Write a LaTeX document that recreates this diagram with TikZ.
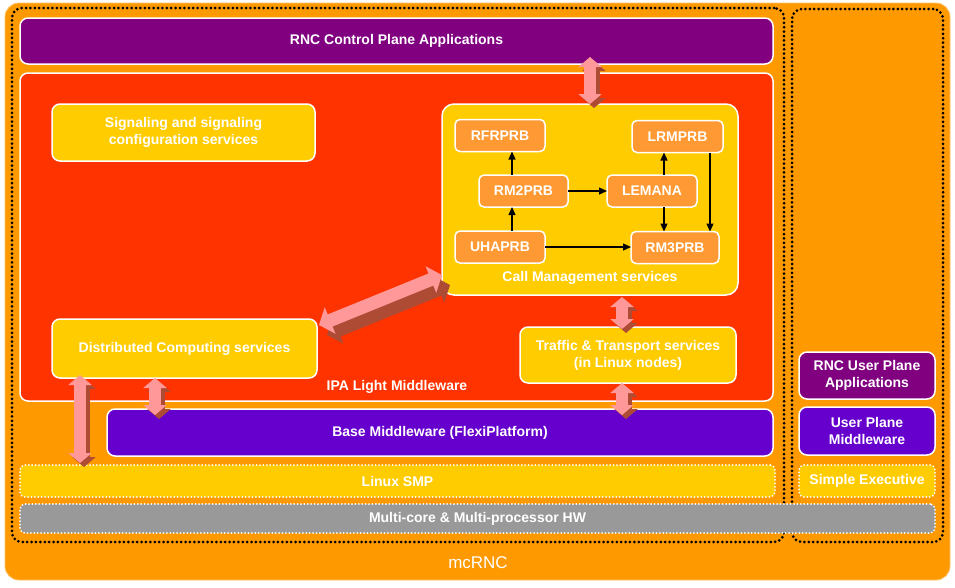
\documentclass[tikz,border=0pt]{standalone}
\usepackage{fontspec}
\setmainfont{Liberation Sans}
\usetikzlibrary{arrows.meta}
\definecolor{outerorange}{HTML}{FF9900}
\definecolor{cppurple}{HTML}{800080}
\definecolor{ipared}{HTML}{FF3300}
\definecolor{svcyellow}{HTML}{FFCC00}
\definecolor{suborange}{HTML}{FF9933}
\definecolor{mwviolet}{HTML}{6600CC}
\definecolor{hwgray}{HTML}{999999}
\definecolor{pinkc}{HTML}{FF9999}
\definecolor{shadowc}{HTML}{AE4B35}
\newcommand\lbl{\fontsize{14}{17}\selectfont\bfseries}
\begin{document}
\begin{tikzpicture}[x=1pt,y=-1pt,
  box/.style={draw=white, line width=1.5pt, rounded corners=8pt, text=white, font=\lbl, align=center, inner sep=0pt, outer sep=0pt},
  dotbox/.style={box, line width=2pt, dash pattern=on 0pt off 3.4pt, line cap=round, rounded corners=5pt},
  blackdots/.style={draw=black, line width=3pt, dash pattern=on 0pt off 4.4pt, line cap=round, rounded corners=10pt},
  sub/.style={box, fill=suborange, rounded corners=5pt, minimum height=32pt},
  smallarrow/.style={-{Triangle[length=8pt,width=7pt]}, line width=1.2pt, draw=black},
  bigarrow/.style={line width=12pt, draw=pinkc, {Triangle[width=23pt,length=10pt]}-{Triangle[width=23pt,length=10pt]}},
  bigshadow/.style={bigarrow, draw=shadowc, transform canvas={xshift=4pt,yshift=-4pt}},
  diagarrow/.style={line width=13pt, draw=pinkc, {Triangle[width=28pt,length=12pt]}-{Triangle[width=28pt,length=12pt]}},
  diagshadow/.style={diagarrow, draw=shadowc, transform canvas={xshift=8pt,yshift=-10pt}},
  lbltext/.style={text=white, font=\lbl, inner sep=0pt}
]
\useasboundingbox (0,0) rectangle (955,587);
% outer
\node[fill=outerorange, draw=outerorange!60!white, line width=0.8pt, rounded corners=14pt, minimum width=945pt, minimum height=577pt, inner sep=0pt] (outer) at (477.5,291.5) {};
\node[lbltext, font=\fontsize{17}{20}\selectfont] (mcrnc) at (478,563) {mcRNC};
% dotted regions
\node[blackdots, minimum width=772pt, minimum height=534pt, inner sep=0pt] (ldot) at (398,275) {};
\node[blackdots, minimum width=151pt, minimum height=533pt, inner sep=0pt] (rdot) at (867.5,275.5) {};
% layers
\node[box, fill=cppurple, minimum width=753pt, minimum height=46pt] (cp) at (396.5,41) {RNC Control Plane Applications};
\node[box, fill=ipared, minimum width=753pt, minimum height=328pt] (ipa) at (396.5,237) {};
\node[lbltext] (ipalbl) at (397,387) {IPA Light Middleware};
\node[box, fill=svcyellow, minimum width=263pt, minimum height=57pt] (sig) at (183.5,132.5) {Signaling and signaling\\configuration services};
\node[box, fill=svcyellow, minimum width=296pt, minimum height=191pt, rounded corners=12pt] (cm) at (590,199.5) {};
\node[lbltext] (cmlbl) at (590,278) {Call Management services};
\node[sub, minimum width=90pt] (rfr) at (500,135.5) {RFRPRB};
\node[sub, minimum width=91pt] (lrm) at (677.5,136.5) {LRMPRB};
\node[sub, minimum width=89pt] (rm2) at (523.5,191) {RM2PRB};
\node[sub, minimum width=90pt] (lem) at (652,191) {LEMANA};
\node[sub, minimum width=90pt] (uha) at (500,247) {UHAPRB};
\node[sub, minimum width=88pt] (rm3) at (675,247.5) {RM3PRB};
\draw[smallarrow] (rm2.north -| 512,0) -- (rfr.south -| 512,0);
\draw[smallarrow] (uha.north -| 512,0) -- (rm2.south -| 512,0);
\draw[smallarrow] (rm2.east) -- (lem.west);
\draw[smallarrow] (lem.north -| 664,0) -- (lrm.south -| 664,0);
\draw[smallarrow] (lem.south -| 664,0) -- (rm3.north -| 664,0);
\draw[smallarrow] (lrm.south -| 710,0) -- (rm3.north -| 710,0);
\draw[smallarrow] (uha.east) -- (uha.east -| rm3.west);
\node[box, fill=svcyellow, minimum width=265pt, minimum height=59pt] (dist) at (184.5,348.5) {Distributed Computing services};
\node[box, fill=svcyellow, minimum width=216pt, minimum height=56pt] (trf) at (628,355) {Traffic \& Transport services\\(in Linux nodes)};
\node[box, fill=mwviolet, minimum width=666pt, minimum height=47pt] (base) at (440,432.5) {Base Middleware (FlexiPlatform)};
\node[dotbox, fill=svcyellow, minimum width=755pt, minimum height=32pt] (linux) at (397.5,481) {Linux SMP};
\node[dotbox, fill=hwgray, minimum width=915pt, minimum height=29pt] (hw) at (477.5,518.5) {Multi-core \& Multi-processor HW};
\node[box, fill=cppurple, minimum width=136pt, minimum height=47pt] (upa) at (867,375.5) {RNC User Plane\\Applications};
\node[box, fill=mwviolet, minimum width=136pt, minimum height=48pt] (upm) at (867,431) {User Plane\\Middleware};
\node[dotbox, fill=svcyellow, minimum width=136pt, minimum height=32pt] (se) at (867,481) {Simple Executive};
% big arrows
\draw[bigshadow] ([yshift=7pt]cp.south -| cm.north) -- (cm.north);
\draw[bigarrow] ([yshift=7pt]cp.south -| cm.north) -- (cm.north);
\draw[bigshadow] ([yshift=-2pt]cm.south -| 622,0) -- ([yshift=-2pt]trf.north -| 622,0);
\draw[bigarrow] ([yshift=-2pt]cm.south -| 622,0) -- ([yshift=-2pt]trf.north -| 622,0);
\draw[bigshadow] (trf.south -| 622,0) -- ([yshift=-6pt]base.north -| 622,0);
\draw[bigarrow] (trf.south -| 622,0) -- ([yshift=-6pt]base.north -| 622,0);
\draw[bigshadow] ([yshift=3pt]dist.south -| 80,0) -- ([yshift=2pt]linux.north -| 80,0);
\draw[bigarrow] ([yshift=3pt]dist.south -| 80,0) -- ([yshift=2pt]linux.north -| 80,0);
\draw[bigshadow] (dist.south -| 155,0) -- ([yshift=-6pt]base.north -| 155,0);
\draw[bigarrow] (dist.south -| 155,0) -- ([yshift=-6pt]base.north -| 155,0);
\draw[diagshadow] ([xshift=2pt,yshift=-6pt]dist.north east) -- ([yshift=20pt]cm.south west);
\draw[diagarrow] ([xshift=2pt,yshift=-6pt]dist.north east) -- ([yshift=20pt]cm.south west);
\end{tikzpicture}
\end{document}
